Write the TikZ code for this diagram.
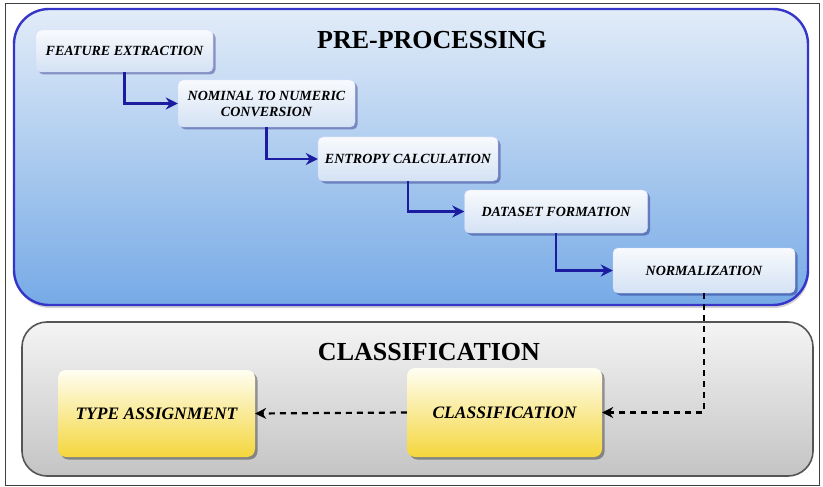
\documentclass[tikz,border=0pt]{standalone}
\usepackage{fontspec}
\setmainfont{Liberation Serif}
\usetikzlibrary{arrows.meta,shadows}
\definecolor{bluetop}{HTML}{E2ECF8}
\definecolor{bluebot}{HTML}{76AAE6}
\definecolor{blueedge}{HTML}{3535C8}
\definecolor{arrowblue}{HTML}{1C1CA0}
\definecolor{graytop}{HTML}{F4F4F4}
\definecolor{graybot}{HTML}{C4C4C4}
\definecolor{grayedge}{HTML}{555555}
\definecolor{steptop}{HTML}{F8FAFD}
\definecolor{stepbot}{HTML}{D4E2F4}
\definecolor{yeltop}{HTML}{FFFEF2}
\definecolor{yelbot}{HTML}{F4D63C}
\tikzset{
  bigbox/.style={rounded corners=#1, inner sep=0pt},
  stepbox/.style={rounded corners=5pt, inner sep=0pt, align=center,
    top color=steptop, bottom color=stepbot, draw=white!85!blue, line width=0.4pt,
    drop shadow={shadow xshift=2.5pt, shadow yshift=-2.5pt, fill=black!60!blue, opacity=0.35},
    font=\fontsize{14}{16}\selectfont\bfseries\itshape},
  yelbox/.style={rounded corners=8pt, inner sep=0pt, align=center,
    top color=yeltop, bottom color=yelbot, draw=none,
    drop shadow={shadow xshift=2.5pt, shadow yshift=-2.5pt, fill=black, opacity=0.35},
    font=\fontsize{17.5}{18}\selectfont\bfseries\itshape},
  titletext/.style={font=\fontsize{26}{26}\selectfont\bfseries, inner sep=0pt},
  flow/.style={draw=arrowblue, line width=2.8pt, -{Stealth[length=12pt,width=12pt]}},
  dflow/.style={draw=black, line width=2.2pt, dash pattern=on 6pt off 5pt, -{Stealth[length=11pt,width=11pt]}}
}
\begin{document}
\begin{tikzpicture}[x=1pt,y=-1pt]
\useasboundingbox (0,0) rectangle (823,487);
\fill[white] (0,0) rectangle (823,487);
\draw[black!75, line width=0.8pt] (5,3) rectangle (819,485);
% pre-processing box
\node[bigbox=35pt, minimum width=794pt, minimum height=296pt,
  top color=bluetop, bottom color=bluebot, draw=blueedge, line width=2.4pt,
  drop shadow={shadow xshift=1pt, shadow yshift=-3pt, fill=black!50, opacity=0.35}]
  (pre) at (411,157) {};
% classification box
\node[bigbox=25pt, minimum width=791pt, minimum height=154pt,
  top color=graytop, bottom color=graybot, draw=grayedge, line width=1.6pt]
  (cls) at (417.5,399) {};
\node[titletext] (pretitle) at (432,40) {PRE-PROCESSING};
\node[titletext] (clstitle) at (429,352) {CLASSIFICATION};
% steps
\node[stepbox, minimum width=177pt, minimum height=42pt] (n1) at (124.5,51) {FEATURE EXTRACTION};
\node[stepbox, minimum width=177pt, minimum height=47pt] (n2) at (266.5,103.5) {NOMINAL TO NUMERIC\\CONVERSION};
\node[stepbox, minimum width=180pt, minimum height=44pt] (n3) at (408,159) {ENTROPY CALCULATION};
\node[stepbox, minimum width=183pt, minimum height=43pt] (n4) at (556,211.5) {DATASET FORMATION};
\node[stepbox, minimum width=182pt, minimum height=45pt] (n5) at (704,270.5) {NORMALIZATION};
% classification nodes
\node[yelbox, minimum width=195pt, minimum height=89pt] (c1) at (504.5,412.5) {CLASSIFICATION};
\node[yelbox, minimum width=197pt, minimum height=87pt] (c2) at (156.5,413.5) {TYPE ASSIGNMENT};
% connectors
\draw[flow] (n1.south) |- (n2.west);
\draw[flow] (n2.south) |- (n3.west);
\draw[flow] (n3.south) |- (n4.west);
\draw[flow] (n4.south) |- (n5.west);
\draw[dflow] (n5.south) |- (c1.east);
\draw[dflow] (c1.west) -- (c2.east);
\end{tikzpicture}
\end{document}
